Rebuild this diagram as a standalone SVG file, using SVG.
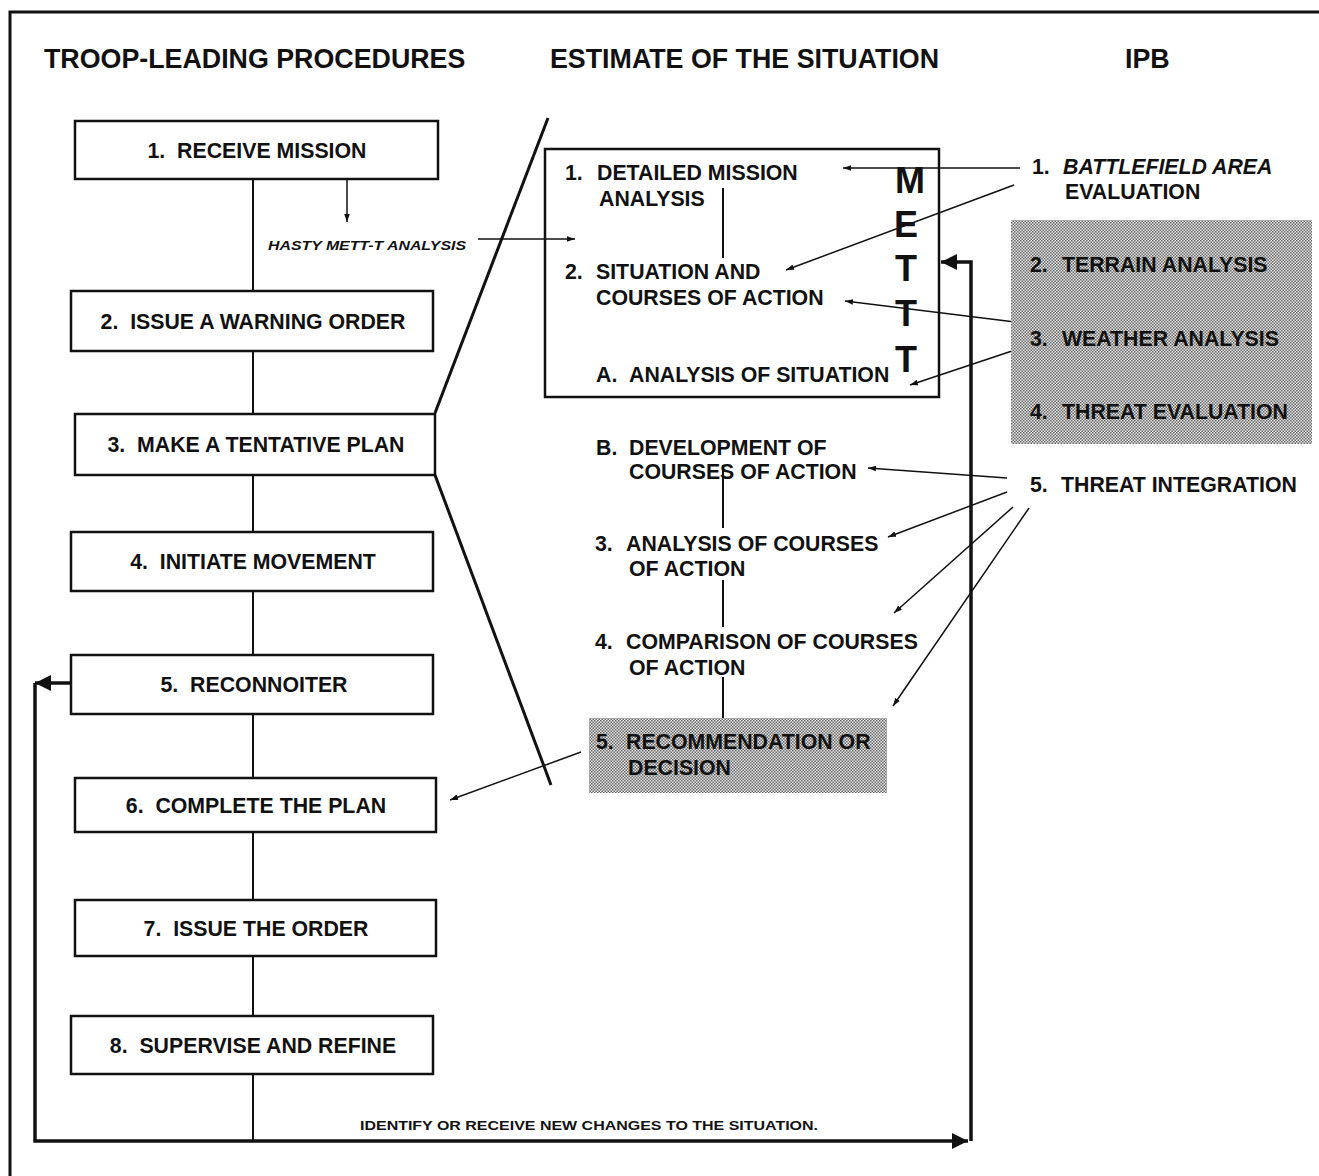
<svg xmlns="http://www.w3.org/2000/svg" width="1319" height="1176" viewBox="0 0 1319 1176">
<defs>
<style>
text{font-family:"Liberation Sans",Arial,sans-serif;font-weight:bold;fill:#111;white-space:pre;}
.title{font-size:26.8px;}
.t{font-size:21.3px;}
.c{text-anchor:middle;}
.box{fill:#fff;stroke:#111;stroke-width:2.5;}
.thin{fill:none;stroke:#111;stroke-width:1.5;}
.line{fill:none;stroke:#111;stroke-width:2;}
.thick{fill:none;stroke:#111;stroke-width:3;}
.loop{fill:none;stroke:#111;stroke-width:3.5;}
.mett{font-size:36px;text-anchor:middle;}
.shade{fill:url(#dither);}
</style>
<pattern id="dither" width="3" height="3" patternUnits="userSpaceOnUse">
<rect width="3" height="3" fill="#e4e4e4"/>
<rect x="0" y="0" width="1.5" height="1.5" fill="#6a6a6a"/>
<rect x="1.5" y="1.5" width="1.5" height="1.5" fill="#6a6a6a"/>
</pattern>
<marker id="ah" viewBox="0 0 10 10" refX="10" refY="5" markerWidth="8" markerHeight="8" markerUnits="userSpaceOnUse" orient="auto">
<path d="M0,1.5 L10,5 L0,8.5 z" fill="#111"/>
</marker>
<marker id="ahb" viewBox="0 0 10 10" refX="10" refY="5" markerWidth="16" markerHeight="16" markerUnits="userSpaceOnUse" orient="auto">
<path d="M0,0 L10,5 L0,10 z" fill="#111"/>
</marker>
</defs>
<rect width="1319" height="1176" fill="#fff"/>
<g id="frame">
<path class="thick" d="M10,1176 L10,12 L1319,12"/>
</g>
<g id="titles">
<text class="title" x="44" y="68">TROOP-LEADING PROCEDURES</text>
<text class="title" x="550" y="68">ESTIMATE OF THE SITUATION</text>
<text class="title" x="1125" y="68">IPB</text>
</g>
<g id="connectors">
<line class="line" x1="253" y1="179" x2="253" y2="1141"/>
<line class="thin" x1="347" y1="179" x2="347" y2="222" marker-end="url(#ah)"/>
<line class="thin" x1="478" y1="239" x2="575" y2="239" marker-end="url(#ah)"/>
<line class="thick" x1="435" y1="413" x2="548" y2="118"/>
<line class="thick" x1="435" y1="475" x2="551" y2="785"/>
<line class="line" x1="723" y1="188" x2="723" y2="258"/>
<line class="line" x1="723" y1="465" x2="723" y2="528"/>
<line class="line" x1="723" y1="580" x2="723" y2="627"/>
<line class="line" x1="723" y1="677" x2="723" y2="722"/>
<line class="thin" x1="1020" y1="168" x2="843" y2="168" marker-end="url(#ah)"/>
<line class="thin" x1="1014" y1="185" x2="786" y2="270" marker-end="url(#ah)"/>
<line class="thin" x1="1015" y1="322" x2="845" y2="301" marker-end="url(#ah)"/>
<line class="thin" x1="1015" y1="350" x2="910" y2="385" marker-end="url(#ah)"/>
<line class="thin" x1="1007" y1="478" x2="868" y2="468" marker-end="url(#ah)"/>
<line class="thin" x1="1007" y1="492" x2="888" y2="537" marker-end="url(#ah)"/>
<line class="thin" x1="1013" y1="507" x2="894" y2="613" marker-end="url(#ah)"/>
<line class="thin" x1="1029" y1="508" x2="893" y2="706" marker-end="url(#ah)"/>
<line class="thin" x1="581" y1="752" x2="450" y2="800" marker-end="url(#ah)"/>
<line class="loop" x1="71" y1="683" x2="35" y2="683" marker-end="url(#ahb)"/>
<path class="loop" d="M35,683 L35,1141 L968,1141" marker-end="url(#ahb)"/>
<path class="loop" d="M971,1141 L971,262 L941,262" marker-end="url(#ahb)"/>
</g>
<g id="n1"><rect class="box" x="75" y="121" width="363" height="58"/><text class="t c" x="257" y="158">1.  RECEIVE MISSION</text></g>
<g id="n2"><rect class="box" x="71" y="291" width="362" height="60"/><text class="t c" x="253" y="329">2.  ISSUE A WARNING ORDER</text></g>
<g id="n3"><rect class="box" x="75" y="414" width="360" height="61"/><text class="t c" x="256" y="452">3.  MAKE A TENTATIVE PLAN</text></g>
<g id="n4"><rect class="box" x="71" y="532" width="362" height="59"/><text class="t c" x="253" y="569">4.  INITIATE MOVEMENT</text></g>
<g id="n5"><rect class="box" x="71" y="655" width="362" height="59"/><text class="t c" x="254" y="692">5.  RECONNOITER</text></g>
<g id="n6"><rect class="box" x="75" y="778" width="361" height="54"/><text class="t c" x="256" y="813">6.  COMPLETE THE PLAN</text></g>
<g id="n7"><rect class="box" x="75" y="900" width="361" height="56"/><text class="t c" x="256" y="936">7.  ISSUE THE ORDER</text></g>
<g id="n8"><rect class="box" x="71" y="1016" width="362" height="58"/><text class="t c" x="253" y="1053">8.  SUPERVISE AND REFINE</text></g>
<g id="hasty"><text x="268" y="250" font-size="13" font-style="italic" textLength="198" lengthAdjust="spacingAndGlyphs">HASTY METT-T ANALYSIS</text></g>
<g id="estimate-box">
<rect x="545" y="149" width="394" height="248" fill="none" stroke="#111" stroke-width="2.5"/>
<text class="t" x="565" y="180">1.</text><text class="t" x="597" y="180">DETAILED MISSION</text>
<text class="t" x="599" y="206">ANALYSIS</text>
<text class="t" x="565" y="279">2.</text><text class="t" x="596" y="279">SITUATION AND</text>
<text class="t" x="596" y="305">COURSES OF ACTION</text>
<text class="t" x="596" y="382">A.</text><text class="t" x="629" y="382">ANALYSIS OF SITUATION</text>
</g>
<g id="mett">
<text class="mett" x="910" y="193">M</text>
<text class="mett" x="906" y="237">E</text>
<text class="mett" x="906" y="281">T</text>
<text class="mett" x="906" y="326">T</text>
<text class="mett" x="906" y="372">T</text>
</g>
<g id="est-b"><text class="t" x="596" y="455">B.</text><text class="t" x="629" y="455">DEVELOPMENT OF</text><text class="t" x="629" y="479">COURSES OF ACTION</text></g>
<g id="est-3"><text class="t" x="595" y="551">3.</text><text class="t" x="626" y="551">ANALYSIS OF COURSES</text><text class="t" x="629" y="576">OF ACTION</text></g>
<g id="est-4"><text class="t" x="595" y="649">4.</text><text class="t" x="626" y="649">COMPARISON OF COURSES</text><text class="t" x="629" y="675">OF ACTION</text></g>
<g id="est-5"><rect class="shade" x="589" y="718" width="298" height="75"/><text class="t" x="596" y="749">5.</text><text class="t" x="626" y="749">RECOMMENDATION OR</text><text class="t" x="628" y="775">DECISION</text></g>
<g id="ipb-1"><text class="t" x="1032" y="174">1.</text><text class="t" x="1063" y="174" font-style="italic">BATTLEFIELD AREA</text><text class="t" x="1065" y="199">EVALUATION</text></g>
<g id="ipb-shaded">
<rect class="shade" x="1011" y="220" width="301" height="224"/>
<text class="t" x="1030" y="272">2.</text><text class="t" x="1062" y="272">TERRAIN ANALYSIS</text>
<text class="t" x="1030" y="346">3.</text><text class="t" x="1062" y="346">WEATHER ANALYSIS</text>
<text class="t" x="1030" y="419">4.</text><text class="t" x="1062" y="419">THREAT EVALUATION</text>
</g>
<g id="ipb-5"><text class="t" x="1030" y="492">5.</text><text class="t" x="1061" y="492">THREAT INTEGRATION</text></g>
<g id="loop-label"><text x="360" y="1130" font-size="13" textLength="458" lengthAdjust="spacingAndGlyphs">IDENTIFY OR RECEIVE NEW CHANGES TO THE SITUATION.</text></g>
</svg>
